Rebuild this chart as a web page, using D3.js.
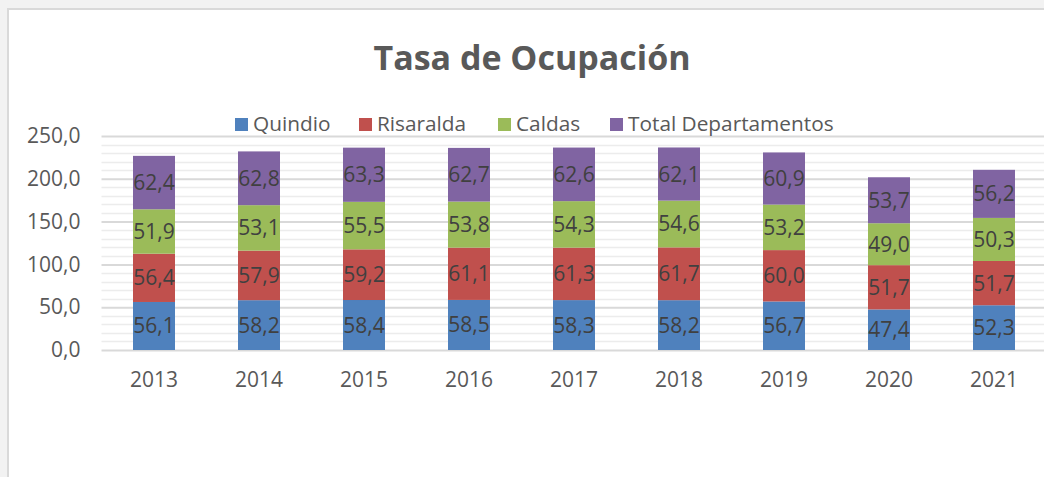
<!DOCTYPE html>
<html lang="es">
<head>
  <meta charset="UTF-8" />
  <script src="https://d3js.org/d3.v7.min.js"></script>
  <title>Tasa de Ocupación</title>
  <style>
    body { margin: 0; background: #f2f2f2; }
    svg { display: block; font-family: "Open Sans", sans-serif; }
  </style>
</head>
<body>
  <svg width="1044" height="477"></svg>
  <script>
    // Data
    const years = ["2013", "2014", "2015", "2016", "2017", "2018", "2019", "2020", "2021"];
    const seriesNames = ["Quindio", "Risaralda", "Caldas", "Total Departamentos"];
    const quindio = [56.1, 58.2, 58.4, 58.5, 58.3, 58.2, 56.7, 47.4, 52.3];
    const risaralda = [56.4, 57.9, 59.2, 61.1, 61.3, 61.7, 60.0, 51.7, 51.7];
    const caldas = [51.9, 53.1, 55.5, 53.8, 54.3, 54.6, 53.2, 49.0, 50.3];
    const total = [62.4, 62.8, 63.3, 62.7, 62.6, 62.1, 60.9, 53.7, 56.2];
    const yTicks = [0, 50, 100, 150, 200, 250];
    const colors = ["#4f81bd", "#c0504d", "#9bbb59", "#8064a2"];

    const svg = d3.select("svg");

    // frame (screenshot border)
    svg.append("rect")
      .attr("x", 8).attr("y", 9).attr("width", 1044).attr("height", 477)
      .attr("fill", "#fff").attr("stroke", "#d9d9d9").attr("stroke-width", 2);

    const table = years.map((y, i) => ({
      year: y,
      "Quindio": quindio[i],
      "Risaralda": risaralda[i],
      "Caldas": caldas[i],
      "Total Departamentos": total[i]
    }));
    const stacked = d3.stack().keys(seriesNames)(table);

    const x = d3.scaleBand().domain(years).range([101.5, 1046.5]).paddingInner(0.6).paddingOuter(0.3);
    const y = d3.scaleLinear().domain([0, 250]).range([350, 136]);

    // minor gridlines
    svg.append("g").selectAll("line")
      .data(d3.range(0, 251, 10).filter(v => v % 50 !== 0))
      .join("line")
      .attr("x1", 101.5).attr("x2", 1044)
      .attr("y1", d => Math.round(y(d)) + 0.5).attr("y2", d => Math.round(y(d)) + 0.5)
      .attr("stroke", "#ececec").attr("stroke-width", 1.5);

    // y axis with major gridlines
    const yAxis = svg.append("g")
      .attr("transform", "translate(101.5,0)")
      .call(d3.axisLeft(y).tickValues(yTicks).tickSize(-943).tickPadding(21)
        .tickFormat(d => d3.format(".1f")(d).replace(".", ",")));
    yAxis.select(".domain").remove();
    yAxis.selectAll("line").attr("stroke", "#d9d9d9").attr("stroke-width", 2);
    yAxis.selectAll("text").attr("fill", "#595959").style("font-size", "21px")
      .style("font-family", "'Open Sans', sans-serif");

    // x axis
    const xAxis = svg.append("g")
      .attr("transform", "translate(0,350)")
      .call(d3.axisBottom(x).tickSize(0).tickPadding(22));
    xAxis.select(".domain").remove();
    xAxis.selectAll("text").attr("fill", "#595959").style("font-size", "21px")
      .style("font-family", "'Open Sans', sans-serif");

    // bars
    const layers = svg.append("g").selectAll("g")
      .data(stacked)
      .join("g")
      .attr("fill", (d, i) => colors[i]);

    layers.selectAll("rect")
      .data(d => d)
      .join("rect")
      .attr("x", d => x(d.data.year))
      .attr("width", x.bandwidth())
      .attr("y", d => y(d[1]))
      .attr("height", d => y(d[0]) - y(d[1]));

    // data labels
    layers.selectAll("text")
      .data(d => d.map(v => ({ v, key: d.key })))
      .join("text")
      .attr("x", d => x(d.v.data.year) + x.bandwidth() / 2)
      .attr("y", d => (y(d.v[0]) + y(d.v[1])) / 2 + 7.5)
      .attr("text-anchor", "middle")
      .attr("fill", "#404040")
      .style("font-size", "21px")
      .text(d => d3.format(".1f")(d.v.data[d.key]).replace(".", ","));

    // title
    svg.append("text")
      .attr("x", 532).attr("y", 70)
      .attr("text-anchor", "middle")
      .attr("fill", "#595959")
      .style("font-size", "34px").style("font-weight", "bold")
      .text("Tasa de Ocupación");

    // legend
    const legendX = [235, 359, 498, 610];
    const legend = svg.append("g").selectAll("g")
      .data(seriesNames)
      .join("g")
      .attr("transform", (d, i) => `translate(${legendX[i]},0)`);
    legend.append("rect")
      .attr("x", 0).attr("y", 118).attr("width", 13).attr("height", 13)
      .attr("fill", (d, i) => colors[i]);
    legend.append("text")
      .attr("x", 18).attr("y", 131)
      .attr("fill", "#595959")
      .style("font-size", "20.8px")
      .text(d => d);
  </script>
</body>
</html>
